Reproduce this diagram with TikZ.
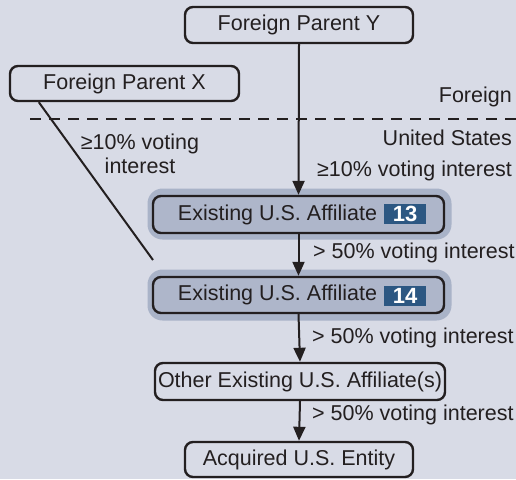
\documentclass[tikz,border=0pt]{standalone}
\usepackage{fontspec}
\setmainfont{Liberation Sans}
\usetikzlibrary{arrows.meta,calc}
\definecolor{bg}{HTML}{D8DBE6}
\definecolor{halo}{HTML}{A9B3C8}
\definecolor{innerfill}{HTML}{AEB6CA}
\definecolor{badgeblue}{HTML}{2C5782}
\definecolor{ink}{HTML}{231F20}
\begin{document}
\begin{tikzpicture}[x=1pt,y=-1pt,
  font=\fontsize{21.5}{25}\selectfont,
  box/.style={draw=ink, line width=2.4pt, rounded corners=8pt, inner sep=0pt, text=ink},
  affbox/.style={box, fill=innerfill, minimum width=291pt, minimum height=37pt},
  halobox/.style={fill=halo, rounded corners=15pt, minimum width=304pt, minimum height=51pt, inner sep=0pt},
  badgebox/.style={fill=badgeblue, text=white, font=\bfseries\fontsize{22}{22}\selectfont, minimum width=42pt, minimum height=20pt, inner sep=0pt},
  lbl/.style={text=ink, inner sep=0pt, text height=15pt, text depth=4pt},
  arr/.style={draw=ink, line width=2pt, -{Triangle[length=14pt,width=12pt]}},
  plainline/.style={draw=ink, line width=2pt},
  divider/.style={draw=ink, line width=2pt, dash pattern=on 11pt off 8pt}]
\fill[bg] (0,0) rectangle (516,479);
\useasboundingbox (0,0) rectangle (516,479);

% boxes
\node[box, minimum width=228pt, minimum height=36pt] (y) at (299,25) {Foreign Parent Y};
\node[box, minimum width=229pt, minimum height=35pt] (x) at (124.5,83.5) {Foreign Parent X};

\node[halobox] (h13) at (299.5,214) {};
\node[affbox] (a13) at (298.5,214.5) {};
\node[lbl, anchor=center] (t13) at (277.5,214.5) {Existing U.S. Affiliate};
\node[badgebox] (b13) at (405,214) {13};

\node[halobox] (h14) at (299.5,295) {};
\node[affbox, minimum height=36pt] (a14) at (298.5,295) {};
\node[lbl, anchor=center] (t14) at (277.5,295) {Existing U.S. Affiliate};
\node[badgebox] (b14) at (405,296) {14};

\node[box, minimum width=290pt, minimum height=37pt] (oth) at (300,381.5) {Other Existing U.S. Affiliate(s)};
\node[box, minimum width=228pt, minimum height=35pt] (acq) at (299,459.5) {Acquired U.S. Entity};

% divider
\coordinate (dl) at (30,119);
\coordinate (dr) at (516,119);
\draw[divider] (dl) -- (dr);
\node[lbl, anchor=east] (foreign) at (512,97) {Foreign};
\node[lbl, anchor=east] (us) at (512,140) {United States};

% connectors
\coordinate (xstart) at ($(x.south west)+(30,0)$);
\coordinate (xend) at (153,260);
\draw[plainline] (xstart) -- (xend);
\node[lbl, align=center, anchor=center, text height=, text depth=] (xlab) at (140,154) {\rule{0pt}{15pt}≥10\% voting\\[-1pt]interest};

\draw[arr] (y.south) -- (a13.north);
\node[lbl, anchor=east] (ylab) at (512,171) {≥10\% voting interest};

\draw[arr] (a13.south) -- (a14.north);
\node[lbl, anchor=west] (l1) at (313,253) {> 50\% voting interest};

\draw[arr] (a14.south) -- (oth.north);
\node[lbl, anchor=west] (l2) at (312,338) {> 50\% voting interest};

\draw[arr] (oth.south) -- (acq.north);
\node[lbl, anchor=west] (l3) at (312,415) {> 50\% voting interest};
\end{tikzpicture}
\end{document}
